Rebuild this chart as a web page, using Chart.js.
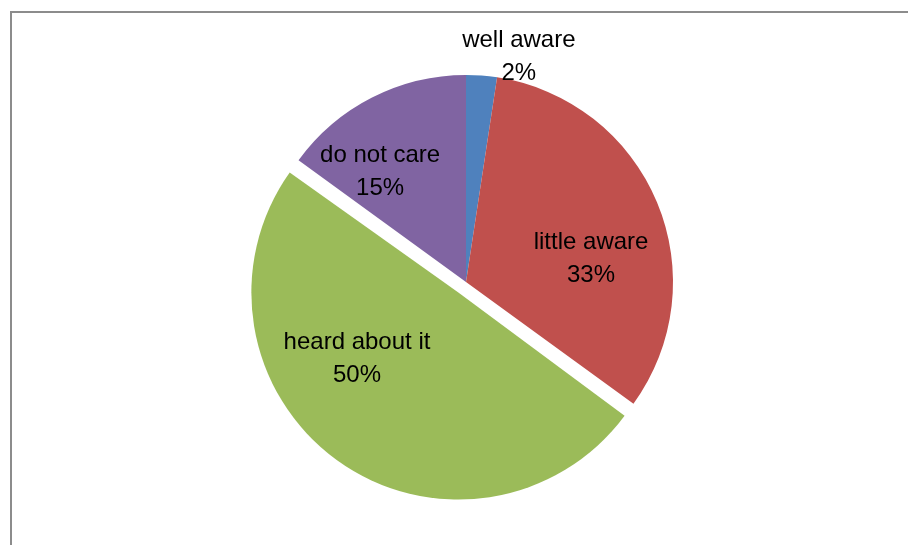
<!DOCTYPE html>
<html>
<head>
<meta charset="utf-8">
<script src="https://cdn.jsdelivr.net/npm/chart.js@4/dist/chart.umd.min.js"></script>
<style>
html,body{margin:0;padding:0;background:#fff;overflow:hidden;}
#c{display:block;}
</style>
</head>
<body>
<canvas id="c" width="908" height="545"></canvas>
<script>
const categories = ["well aware", "little aware", "heard about it", "do not care"];
const values = [2.4, 32.6, 50.0, 15.0];
const percentLabels = ["2%", "33%", "50%", "15%"];
const colors = ["#4F81BD", "#C0504D", "#9BBB59", "#8064A2"];
// Chart.js v4 shifts an arc by offset/4 px
const sliceOffsets = [0, 0, 52, 0];
// label placement: [angle from top in degrees, distance as fraction of radius]
const labelPolar = [[13.1, 1.126], [78.7, 0.616], [235.5, 0.639], [322.4, 0.680]];

const framePlugin = {
  id: 'frame',
  beforeDraw(chart) {
    const ctx = chart.ctx;
    ctx.save();
    ctx.fillStyle = '#fff';
    ctx.fillRect(0, 0, chart.width, chart.height);
    ctx.strokeStyle = '#8c8c8c';
    ctx.lineWidth = 2;
    ctx.beginPath();
    ctx.moveTo(11, chart.height + 5);
    ctx.lineTo(11, 12);
    ctx.lineTo(chart.width + 5, 12);
    ctx.stroke();
    ctx.restore();
  }
};

// keep exploded slices at the same radius (Chart.js enlarges them by the offset)
const explodeFixPlugin = {
  id: 'explodeFix',
  beforeDatasetsDraw(chart) {
    const meta = chart.getDatasetMeta(0);
    meta.data.forEach((arc, i) => {
      const off = (sliceOffsets[i] || 0) / 4;
      if (off) {
        const fix = 1 - Math.sin(Math.min(Math.PI, arc.circumference || 0));
        arc._origOuter = arc.outerRadius;
        arc.outerRadius = arc.outerRadius - off * fix;
      }
    });
  },
  afterDatasetsDraw(chart) {
    const meta = chart.getDatasetMeta(0);
    meta.data.forEach((arc) => {
      if (arc._origOuter !== undefined) {
        arc.outerRadius = arc._origOuter;
        delete arc._origOuter;
      }
    });
  }
};

const labelPlugin = {
  id: 'sliceLabels',
  afterDatasetsDraw(chart) {
    const ctx = chart.ctx;
    const meta = chart.getDatasetMeta(0);
    ctx.save();
    ctx.fillStyle = '#000';
    ctx.font = '24px "Liberation Sans", Arial, sans-serif';
    ctx.textAlign = 'center';
    ctx.textBaseline = 'alphabetic';
    meta.data.forEach((arc, i) => {
      const p = arc.getProps(['x', 'y', 'outerRadius'], true);
      const a = labelPolar[i][0] * Math.PI / 180;
      const d = labelPolar[i][1] * p.outerRadius;
      const cx = p.x + Math.sin(a) * d;
      const cy = p.y - Math.cos(a) * d;
      ctx.fillText(categories[i], cx, cy - 8);
      ctx.fillText(percentLabels[i], cx, cy + 25);
    });
    ctx.restore();
  }
};

new Chart(document.getElementById('c'), {
  type: 'pie',
  data: {
    labels: categories,
    datasets: [{
      data: values,
      backgroundColor: colors,
      borderWidth: 0,
      offset: sliceOffsets,
      radius: 207
    }]
  },
  options: {
    responsive: false,
    animation: false,
    layout: { padding: { left: 24, top: 19, right: 0, bottom: 0 } },
    plugins: {
      legend: { display: false },
      tooltip: { enabled: false }
    }
  },
  plugins: [framePlugin, explodeFixPlugin, labelPlugin]
});
</script>
</body>
</html>
